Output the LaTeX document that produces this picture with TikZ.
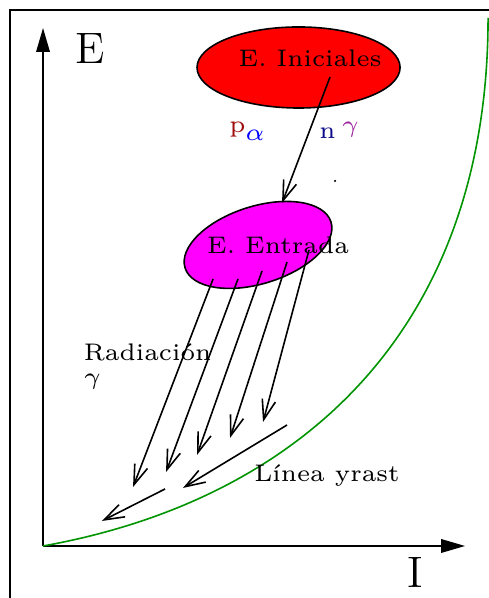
\documentclass[tikz,border=0pt]{standalone}
\usepackage{tikz}
\usetikzlibrary{positioning, calc, shapes.geometric, arrows.meta}

\definecolor{pcol}{rgb}{0.62,0.05,0.05}
\definecolor{ncol}{rgb}{0.05,0.05,0.55}
\definecolor{gcol}{rgb}{0.62,0.15,0.62}
\definecolor{yrastcol}{rgb}{0.0,0.58,0.0}
\definecolor{inicol}{rgb}{1,0,0}
\definecolor{entcol}{rgb}{1,0,1}

\begin{document}
\begin{tikzpicture}[
    lbl/.style     = {font=\fontsize{6}{6}\selectfont, inner sep=0pt},
    axislbl/.style = {font=\fontsize{11}{13}\selectfont, inner sep=0pt},
    ax/.style      = {-{Triangle[length=6pt, width=3.4pt]}},
    decay/.style   = {-{Straight Barb[length=5pt, width=3.4pt]}},
    level/.style   = {ellipse, draw, inner sep=0pt},
    yrast/.style   = {draw=yrastcol},
]

%% ---- frame and page ----
\clip (-0.378,-0.457) rectangle (3.918,4.797);
\draw (-0.290,-1.0) rectangle (5.0,4.709);

%% ---- axes ----
\coordinate (O) at (0,0);
\coordinate (Etip) at (0,4.551);
\coordinate (Itip) at (3.708,0);
\draw[ax] (O) -- (Etip);
\draw[ax] (O) -- (Itip);
\node[axislbl] (Elbl) at (0.413,4.375) {E};
\node[axislbl] (Ilbl) at (3.268,-0.237) {I};

%% ---- yrast line ----
\coordinate (ytop) at (3.910,4.639);
\draw[yrast] (O) .. controls (2.258,0.404) and (3.910,1.898) .. (ytop);
\node[lbl] (yrastlbl) at (2.495,0.615) {L\'inea yrast};

%% ---- levels ----
\node[level, fill=inicol, minimum width=1.784cm, minimum height=0.712cm]
    (ini) at (2.245,4.204) {};
\node[lbl] (initxt) at (2.346,4.283) {E. Iniciales};

\node[level, fill=entcol, rotate=17.5, minimum width=1.344cm,
      minimum height=0.680cm] (ent) at (1.889,2.645) {};
\node[lbl] (enttxt) at (2.065,2.640) {E. Entrada};

%% ---- emitted particles ----
\node[lbl, text=pcol] (p) at (1.709,3.655) {p};
\node[lbl, text=blue] (alpha) at (1.863,3.607) {$\alpha$};
\node[lbl, text=ncol] (n) at (2.500,3.624) {n};
\node[lbl, text=gcol] (gam) at (2.702,3.655) {$\gamma$};
\fill (2.566,3.207) circle (0.3pt);

\draw[decay] ($(ini.center)+(0.277,-0.083)$) -- ($(ent.center)+(0.211,0.369)$);

%% ---- gamma cascade ----
\node[lbl, anchor=north west, align=left] (rad) at (0.351,1.784)
    {Radiaci\'on\\$\gamma$};

\foreach \i/\sx/\sy/\ex/\ey in {1/-0.395/-0.299/0.791/0.518,
                                 2/-0.176/-0.299/1.081/0.650,
                                 3/0.035/-0.229/1.353/0.800,
                                 4/0.255/-0.150/1.643/0.949,
                                 5/0.448/-0.044/1.933/1.089} {
    \coordinate (g\i) at (\ex,\ey);
    \draw[decay] ($(ent.center)+(\sx,\sy)$) -- (g\i);
}

\coordinate (a1) at (2.144,1.063);
\coordinate (a2) at (1.230,0.510);
\draw[decay] (a1) -- (a2);
\coordinate (b1) at (1.072,0.501);
\coordinate (b2) at (0.518,0.220);
\draw[decay] (b1) -- (b2);

\end{tikzpicture}
\end{document}
